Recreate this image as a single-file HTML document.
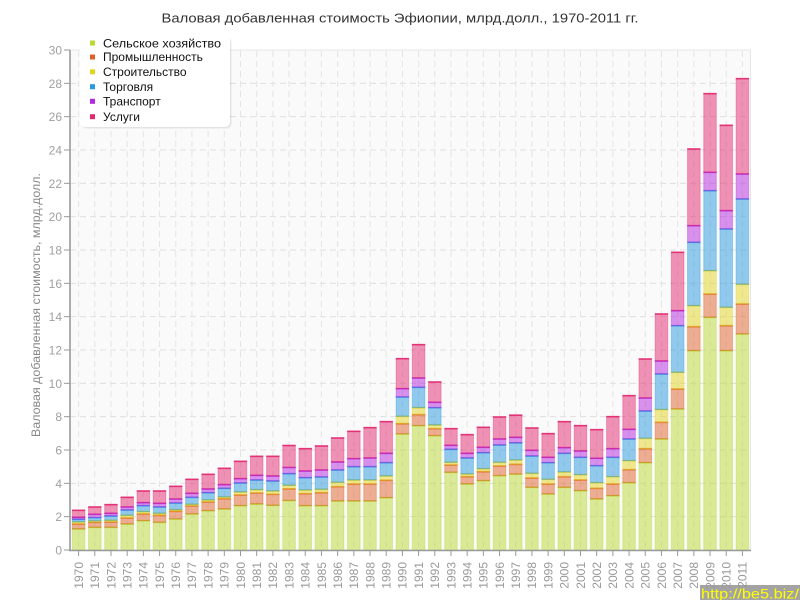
<!DOCTYPE html>
<html><head><meta charset="utf-8">
<style>
html,body{margin:0;padding:0;background:#fff;}
svg{display:block;}
text{font-family:"Liberation Sans","DejaVu Sans",sans-serif;}
</style></head>
<body>
<svg id="c" width="800" height="600" xmlns="http://www.w3.org/2000/svg">
<rect width="800" height="600" fill="#fff"/>
<rect x="70" y="50" width="680.5" height="500" fill="#fafafa" stroke="#e6e6e6" stroke-width="1"/>
<g id="grid"></g>
<g id="bars"></g>
<line x1="70" y1="50" x2="70" y2="551" stroke="#999" stroke-width="1.6"/>
<line x1="69" y1="550.5" x2="751" y2="550.5" stroke="#999" stroke-width="1.4"/>
<g id="ticks"></g>

<text x="400" y="22.5" text-anchor="middle" font-size="13" fill="#333" textLength="477" lengthAdjust="spacingAndGlyphs">Валовая добавленная стоимость Эфиопии, млрд.долл., 1970-2011 гг.</text>

<g font-size="12" fill="#a0a0a0" text-anchor="end">
<text x="62" y="554.5">0</text>
<text x="62" y="521.2">2</text>
<text x="62" y="487.8">4</text>
<text x="62" y="454.5">6</text>
<text x="62" y="421.2">8</text>
<text x="62" y="387.8">10</text>
<text x="62" y="354.5">12</text>
<text x="62" y="321.2">14</text>
<text x="62" y="287.8">16</text>
<text x="62" y="254.5">18</text>
<text x="62" y="221.2">20</text>
<text x="62" y="187.8">22</text>
<text x="62" y="154.5">24</text>
<text x="62" y="121.2">26</text>
<text x="62" y="87.8">28</text>
<text x="62" y="54.5">30</text>
</g>

<text transform="translate(40,305) rotate(-90)" text-anchor="middle" font-size="12" fill="#888" textLength="264" lengthAdjust="spacingAndGlyphs">Валовая добавленная стоимость, млрд.долл.</text>

<g font-size="12" fill="#999" text-anchor="end">
<text transform="translate(82.9,562) rotate(-90)">1970</text>
<text transform="translate(99.1,562) rotate(-90)">1971</text>
<text transform="translate(115.3,562) rotate(-90)">1972</text>
<text transform="translate(131.5,562) rotate(-90)">1973</text>
<text transform="translate(147.7,562) rotate(-90)">1974</text>
<text transform="translate(163.9,562) rotate(-90)">1975</text>
<text transform="translate(180.0,562) rotate(-90)">1976</text>
<text transform="translate(196.2,562) rotate(-90)">1977</text>
<text transform="translate(212.4,562) rotate(-90)">1978</text>
<text transform="translate(228.6,562) rotate(-90)">1979</text>
<text transform="translate(244.8,562) rotate(-90)">1980</text>
<text transform="translate(261.0,562) rotate(-90)">1981</text>
<text transform="translate(277.2,562) rotate(-90)">1982</text>
<text transform="translate(293.4,562) rotate(-90)">1983</text>
<text transform="translate(309.6,562) rotate(-90)">1984</text>
<text transform="translate(325.8,562) rotate(-90)">1985</text>
<text transform="translate(341.9,562) rotate(-90)">1986</text>
<text transform="translate(358.1,562) rotate(-90)">1987</text>
<text transform="translate(374.3,562) rotate(-90)">1988</text>
<text transform="translate(390.5,562) rotate(-90)">1989</text>
<text transform="translate(406.7,562) rotate(-90)">1990</text>
<text transform="translate(422.9,562) rotate(-90)">1991</text>
<text transform="translate(439.1,562) rotate(-90)">1992</text>
<text transform="translate(455.3,562) rotate(-90)">1993</text>
<text transform="translate(471.5,562) rotate(-90)">1994</text>
<text transform="translate(487.7,562) rotate(-90)">1995</text>
<text transform="translate(503.9,562) rotate(-90)">1996</text>
<text transform="translate(520.0,562) rotate(-90)">1997</text>
<text transform="translate(536.2,562) rotate(-90)">1998</text>
<text transform="translate(552.4,562) rotate(-90)">1999</text>
<text transform="translate(568.6,562) rotate(-90)">2000</text>
<text transform="translate(584.8,562) rotate(-90)">2001</text>
<text transform="translate(601.0,562) rotate(-90)">2002</text>
<text transform="translate(617.2,562) rotate(-90)">2003</text>
<text transform="translate(633.4,562) rotate(-90)">2004</text>
<text transform="translate(649.6,562) rotate(-90)">2005</text>
<text transform="translate(665.8,562) rotate(-90)">2006</text>
<text transform="translate(681.9,562) rotate(-90)">2007</text>
<text transform="translate(698.1,562) rotate(-90)">2008</text>
<text transform="translate(714.3,562) rotate(-90)">2009</text>
<text transform="translate(730.5,562) rotate(-90)">2010</text>
<text transform="translate(746.7,562) rotate(-90)">2011</text>
</g>

<!-- legend -->
<rect x="82" y="38" width="150" height="91" rx="5" fill="#000" opacity="0.04"/>
<rect x="81" y="37" width="150" height="91" rx="5" fill="#000" opacity="0.05"/>
<rect x="80" y="36" width="150" height="91" rx="5" fill="#fff"/>
<rect x="90" y="40.5" width="5" height="5" fill="#b8d832"/>
<rect x="90" y="54.5" width="5" height="5" fill="#e0602a"/>
<rect x="90" y="69.3" width="5" height="5" fill="#e2d420"/>
<rect x="90" y="84.2" width="5" height="5" fill="#2898e0"/>
<rect x="90" y="98.8" width="5" height="5" fill="#b428e0"/>
<rect x="90" y="114.2" width="5" height="5" fill="#e22870"/>
<g font-size="12" fill="#111">
<text x="103" y="47.5" textLength="118" lengthAdjust="spacingAndGlyphs">Сельское хозяйство</text>
<text x="103" y="61">Промышленность</text>
<text x="103" y="76">Строительство</text>
<text x="103" y="91">Торговля</text>
<text x="103" y="105.5">Транспорт</text>
<text x="103" y="121">Услуги</text>
</g>

<!-- watermark -->
<rect x="700" y="585" width="100" height="15" fill="#999" opacity="0.9"/>
<text x="701" y="598.5" font-size="14" fill="#ffff00" textLength="98" lengthAdjust="spacingAndGlyphs">http://be5.biz/</text>

<script>
(function(){
var ns='http://www.w3.org/2000/svg';
var data=[
[1.26,1.56,1.68,1.84,1.96,2.38],
[1.36,1.66,1.74,1.94,2.14,2.58],
[1.36,1.68,1.78,2.04,2.20,2.72],
[1.56,1.92,2.08,2.40,2.58,3.16],
[1.76,2.16,2.30,2.66,2.84,3.54],
[1.66,2.08,2.20,2.58,2.80,3.54],
[1.86,2.32,2.42,2.82,3.06,3.82],
[2.16,2.64,2.74,3.16,3.40,4.24],
[2.36,2.88,3.00,3.44,3.66,4.54],
[2.46,3.08,3.18,3.70,3.92,4.90],
[2.66,3.30,3.48,4.02,4.28,5.32],
[2.76,3.42,3.62,4.20,4.48,5.62],
[2.68,3.34,3.54,4.14,4.44,5.62],
[2.97,3.67,3.88,4.58,4.95,6.27],
[2.66,3.38,3.60,4.34,4.74,6.08],
[2.66,3.44,3.64,4.38,4.80,6.24],
[2.94,3.80,4.06,4.80,5.28,6.72],
[2.94,3.96,4.20,5.00,5.48,7.12],
[2.94,3.96,4.20,5.00,5.52,7.34],
[3.14,4.18,4.44,5.24,5.80,7.70],
[6.96,7.58,8.02,9.18,9.68,11.48],
[7.46,8.12,8.54,9.76,10.32,12.32],
[6.86,7.28,7.50,8.54,8.86,10.08],
[4.66,5.10,5.26,6.04,6.28,7.28],
[3.96,4.40,4.56,5.52,5.80,6.92],
[4.16,4.70,4.88,5.84,6.16,7.36],
[4.46,5.04,5.26,6.30,6.66,7.98],
[4.55,5.14,5.40,6.43,6.76,8.09],
[3.76,4.32,4.60,5.64,5.98,7.32],
[3.36,3.96,4.24,5.24,5.56,6.98],
[3.76,4.40,4.68,5.80,6.14,7.70],
[3.56,4.20,4.52,5.56,5.94,7.46],
[3.06,3.70,4.04,5.06,5.50,7.22],
[3.26,3.96,4.40,5.56,6.08,8.00],
[4.04,4.82,5.36,6.66,7.24,9.26],
[5.24,6.08,6.70,8.34,9.12,11.46],
[6.66,7.66,8.43,10.56,11.34,14.16],
[8.46,9.66,10.66,13.46,14.36,17.86],
[11.96,13.40,14.66,18.46,19.46,24.06],
[13.96,15.36,16.76,21.56,22.66,27.38],
[11.96,13.46,14.56,19.26,20.36,25.48],
[12.96,14.76,15.94,21.06,22.56,28.28]];
var cols=['#b8d832','#e0602a','#e2d420','#2898e0','#b428e0','#e22870'];
var W=680/42, BW=12.6;
function Y(v){return 550-v*50/3;}
function el(p,n,a){var e=document.createElementNS(ns,n);for(var k in a)e.setAttribute(k,a[k]);p.appendChild(e);return e;}
var gr=document.getElementById('grid'),g=document.getElementById('bars'),tk=document.getElementById('ticks');
for(var k=1;k<15;k++){var y=Y(2*k);
 el(gr,'line',{x1:70,x2:750,y1:y,y2:y,stroke:'#e0e0e0','stroke-width':1,'stroke-dasharray':'6,4'});}
for(var k=0;k<=15;k++){var y=Y(2*k);
 el(tk,'line',{x1:64,x2:70,y1:y,y2:y,stroke:'#999','stroke-width':1});}
for(var i=0;i<42;i++){var cx=70.5+W*(i+0.5);
 el(gr,'line',{x1:cx,x2:cx,y1:51,y2:550,stroke:'#e4e4e4','stroke-width':1,'stroke-dasharray':'6,4'});
 el(tk,'line',{x1:cx,x2:cx,y1:551,y2:556,stroke:'#999','stroke-width':1});}
for(var i=0;i<42;i++){
 var cx=70.5+W*(i+0.5),x=cx-BW/2,prev=0;
 for(var s=0;s<6;s++){
  var top=data[i][s],yt=Y(top),yb=Y(prev);
  el(g,'rect',{x:x,y:yt,width:BW,height:Math.max(0,yb-yt),fill:cols[s],'fill-opacity':0.5,stroke:cols[s],'stroke-opacity':0.35,'stroke-width':1});
  el(g,'line',{x1:x-0.3,x2:x+BW+0.3,y1:yt,y2:yt,stroke:cols[s],'stroke-width':1.6,'stroke-opacity':0.9});
  prev=top;
 }
}
})();
</script>
</svg>
</body></html>
